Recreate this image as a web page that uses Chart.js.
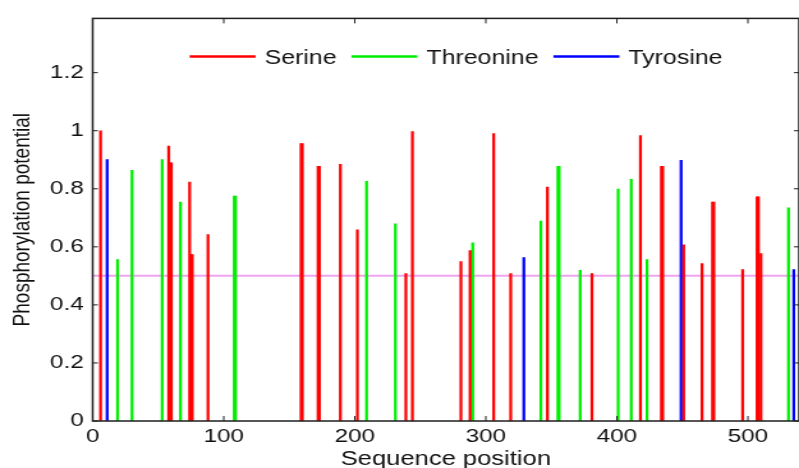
<!DOCTYPE html>
<html>
<head>
<meta charset="utf-8">
<title>Phosphorylation potential</title>
<script src="https://cdn.jsdelivr.net/npm/chart.js@4.4.1/dist/chart.umd.min.js"></script>
<style>
    html, body { margin: 0; padding: 0; background: #fff; overflow: hidden; }
    #wrap { width: 799px; height: 468px; overflow: hidden; }
    /* the reference figure is stretched sideways, so the canvas is too */
    #graph { transform: scaleX(1.2784); transform-origin: 0 0; }
</style>
</head>
<body>
<div id="wrap"><canvas id="graph" width="625" height="468"></canvas></div>
<script>
    'use strict';

    // ----------------------------
    // Data
    // ----------------------------
    var serinePos = [6, 58, 59, 60, 74, 75, 76, 88, 159, 160, 172, 173, 189, 202, 239, 244,
        281, 288, 306, 319, 347, 381, 418, 434, 435, 451, 465, 473, 474, 496, 507, 508, 510];
    var serineVal = [1.0, 0.947, 0.889, 0.889, 0.823, 0.573, 0.573, 0.642, 0.956, 0.956, 0.877, 0.877, 0.884, 0.659, 0.508, 0.997,
        0.549, 0.587, 0.990, 0.508, 0.806, 0.508, 0.983, 0.877, 0.877, 0.607, 0.542, 0.754, 0.754, 0.522, 0.772, 0.772, 0.577];

    var threoninePos = [19, 30, 53, 67, 108, 109, 209, 231, 290, 342, 355, 356, 372, 401, 411, 423, 531];
    var threonineVal = [0.556, 0.864, 0.901, 0.754, 0.775, 0.775, 0.826, 0.679, 0.614, 0.689, 0.877, 0.877, 0.519, 0.799, 0.833, 0.556, 0.734];

    var tyrosinePos = [11, 329, 449, 535];
    var tyrosineVal = [0.901, 0.563, 0.898, 0.522];

    var thresholdPos = [0, 539];
    var thresholdVal = [0.5, 0.5];

    var xTicks = [0, 100, 200, 300, 400, 500];
    var yTicks = [0, 0.2, 0.4, 0.6, 0.8, 1, 1.2];

    var FAMILY = '"Liberation Sans", Arial, sans-serif';

    function toPoints(xs, ys) {
        return xs.map(function (x, i) { return {x: x, y: ys[i]}; });
    }

    // ----------------------------
    // Plugins
    // ----------------------------

    /**
     * MATLAB style box with inward ticks on all four sides
     */
    var axesBox = {
        id: 'axesBox',
        afterDatasetsDraw: function (chart) {
            var ctx = chart.ctx;
            var a = chart.chartArea;
            var xs = chart.scales.x;
            var ys = chart.scales.y;
            ctx.save();
            ctx.strokeStyle = '#1e1e1e';
            ctx.lineWidth = 1.5;
            ctx.strokeRect(a.left, a.top, a.right - a.left, a.bottom - a.top);
            ctx.lineWidth = 1;
            ctx.beginPath();
            xs.ticks.forEach(function (t) {
                var px = xs.getPixelForValue(t.value);
                ctx.moveTo(px, a.bottom);
                ctx.lineTo(px, a.bottom - 5);
                ctx.moveTo(px, a.top);
                ctx.lineTo(px, a.top + 5);
            });
            ys.ticks.forEach(function (t) {
                var py = ys.getPixelForValue(t.value);
                ctx.moveTo(a.left, py);
                ctx.lineTo(a.left + 4, py);
                ctx.moveTo(a.right, py);
                ctx.lineTo(a.right - 4, py);
            });
            ctx.stroke();
            ctx.restore();
        }
    };

    /**
     * Legend with line samples, laid out in one row inside the axes
     */
    var lineLegend = {
        id: 'lineLegend',
        afterDraw: function (chart, args, opts) {
            var ctx = chart.ctx;
            var a = chart.chartArea;
            var items = chart.data.datasets.filter(function (d) { return d.inLegend; });
            ctx.save();
            ctx.font = opts.fontSize + 'px ' + FAMILY;
            ctx.textBaseline = 'middle';
            ctx.textAlign = 'left';
            var widths = items.map(function (d) {
                return opts.lineLength + opts.gap + ctx.measureText(d.label).width;
            });
            var total = widths.reduce(function (s, w) { return s + w; }, 0) + opts.spacing * (items.length - 1);
            var x = (a.left + a.right) / 2 + opts.shift - total / 2;
            var y = a.top + opts.offsetY;
            items.forEach(function (d, i) {
                ctx.strokeStyle = d.backgroundColor;
                ctx.lineWidth = 2.5;
                ctx.beginPath();
                ctx.moveTo(x, y);
                ctx.lineTo(x + opts.lineLength, y);
                ctx.stroke();
                ctx.fillStyle = '#111';
                ctx.fillText(d.label, x + opts.lineLength + opts.gap, y + 2);
                x += widths[i] + opts.spacing;
            });
            ctx.restore();
        }
    };

    // ----------------------------
    // Chart
    // ----------------------------
    var config = {
        type: 'bar',
        data: {
            datasets: [{
                label: 'Serine',
                inLegend: true,
                data: toPoints(serinePos, serineVal),
                backgroundColor: '#ff0000'
            }, {
                label: 'Threonine',
                inLegend: true,
                data: toPoints(threoninePos, threonineVal),
                backgroundColor: '#00ee00'
            }, {
                label: 'Tyrosine',
                inLegend: true,
                data: toPoints(tyrosinePos, tyrosineVal),
                backgroundColor: '#0000ff'
            }, {
                type: 'line',
                label: 'Threshold',
                data: toPoints(thresholdPos, thresholdVal),
                borderColor: '#f0a4f0',
                borderWidth: 2,
                pointRadius: 0,
                fill: false
            }]
        },
        options: {
            responsive: false,
            animation: false,
            devicePixelRatio: 1,
            events: [],
            layout: { padding: { top: 15, right: 0, bottom: 0, left: 0 } },
            datasets: {
                bar: { barThickness: 1.6, grouped: false, borderWidth: 0 }
            },
            scales: {
                x: {
                    type: 'linear',
                    min: 0,
                    max: 539,
                    offset: false,
                    grid: { display: false, drawTicks: false },
                    border: { display: false },
                    afterBuildTicks: function (scale) {
                        scale.ticks = xTicks.map(function (v) { return {value: v}; });
                    },
                    afterFit: function (scale) { scale.height = 47; },
                    ticks: {
                        padding: 4,
                        maxRotation: 0,
                        autoSkip: false,
                        color: '#111',
                        font: { family: FAMILY, size: 19 },
                        callback: function (v) { return String(v); }
                    },
                    title: {
                        display: true,
                        text: 'Sequence position',
                        color: '#111',
                        padding: 0,
                        font: { family: FAMILY, size: 20, lineHeight: 0.9 }
                    }
                },
                y: {
                    min: 0,
                    max: 1.387,
                    grid: { display: false, drawTicks: false },
                    border: { display: false },
                    afterBuildTicks: function (scale) {
                        scale.ticks = yTicks.map(function (v) { return {value: v}; });
                    },
                    afterFit: function (scale) { scale.width = 72.5; },
                    ticks: {
                        padding: 7,
                        color: '#111',
                        font: { family: FAMILY, size: 19 },
                        callback: function (v) { return String(Math.round(v * 10) / 10); }
                    },
                    title: {
                        display: true,
                        text: 'Phosphorylation potential',
                        color: '#111',
                        padding: { top: 6.6, bottom: 0 },
                        font: { family: FAMILY, size: 19 }
                    }
                }
            },
            plugins: {
                legend: { display: false },
                tooltip: { enabled: false },
                lineLegend: { fontSize: 19.5, lineLength: 51.6, gap: 7, spacing: 11.6, shift: 8, offsetY: 38 }
            }
        },
        plugins: [axesBox, lineLegend]
    };

    var canvas = document.getElementById('graph');
    new Chart(canvas.getContext('2d'), config);
</script>
</body>
</html>
